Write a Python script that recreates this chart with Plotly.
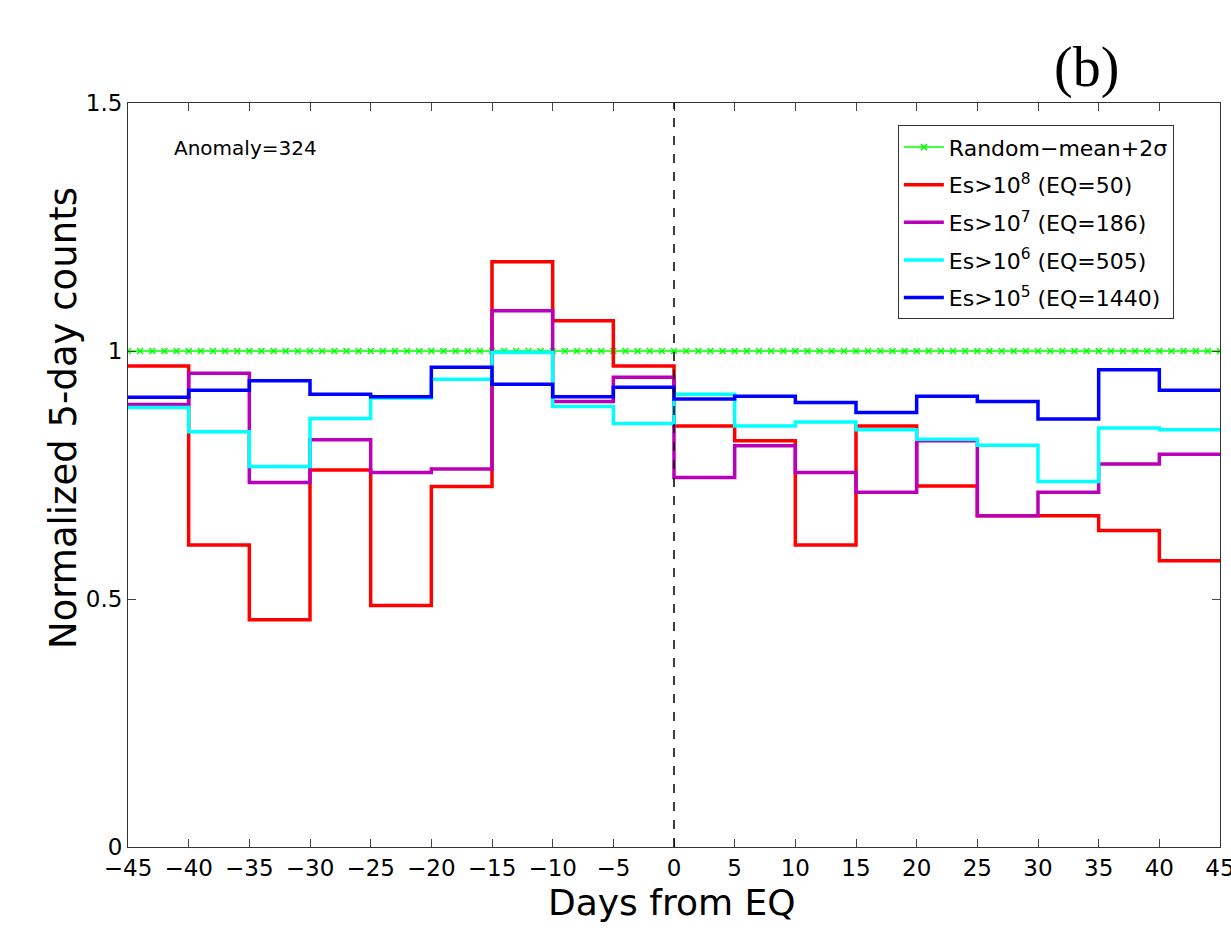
import plotly.graph_objects as go

edges = [-45, -40, -35, -30, -25, -20, -15, -10, -5, 0, 5, 10, 15, 20, 25, 30, 35, 40, 45]
es8 = [0.970, 0.609, 0.458, 0.760, 0.487, 0.727, 1.180, 1.061, 0.970,
       0.849, 0.819, 0.609, 0.849, 0.728, 0.668, 0.668, 0.638, 0.577]
es7 = [0.892, 0.955, 0.735, 0.821, 0.755, 0.762, 1.081, 0.898, 0.947,
       0.745, 0.809, 0.755, 0.715, 0.819, 0.668, 0.715, 0.772, 0.792]
es6 = [0.886, 0.837, 0.767, 0.864, 0.905, 0.943, 0.997, 0.888, 0.854,
       0.913, 0.849, 0.857, 0.841, 0.822, 0.810, 0.737, 0.845, 0.841]
es5 = [0.907, 0.921, 0.940, 0.913, 0.908, 0.967, 0.933, 0.908, 0.927,
       0.903, 0.909, 0.896, 0.876, 0.909, 0.898, 0.863, 0.962, 0.921]
random_days = list(range(-45, 46))
random_level = [1.0] * len(random_days)

xticks = list(range(-45, 46, 5))
yticks = [0, 0.5, 1, 1.5]

font = "DejaVu Sans"
fig = go.Figure()
fig.add_trace(go.Scatter(x=random_days, y=random_level, mode="lines+markers",
                         line=dict(color="#00ff00", width=1.5),
                         marker=dict(symbol="x-thin", size=6, line=dict(color="#00ff00", width=1.5)),
                         name="Random\u2212mean+2\u03c3", legendgroup="g0"))
series = [(es8, "#ff0000", "Es>10<sup>8</sup> (EQ=50)"),
          (es7, "#bb00bb", "Es>10<sup>7</sup> (EQ=186)"),
          (es6, "#00ffff", "Es>10<sup>6</sup> (EQ=505)"),
          (es5, "#0000ff", "Es>10<sup>5</sup> (EQ=1440)")]
for i, (vals, col, nm) in enumerate(series):
    fig.add_trace(go.Scatter(x=edges, y=vals + [vals[-1]], mode="lines", line_shape="hv",
                             line=dict(color=col, width=3.5), name=nm, legendgroup="g%d" % (i + 1)))

fig.add_shape(type="line", x0=0, x1=0, y0=0, y1=1.5, xref="x", yref="y",
              line=dict(color="black", width=1.5, dash="dash"))

fig.add_annotation(text="Anomaly=324", x=-41.4, y=1.409, xref="x", yref="y",
                   showarrow=False, xanchor="left", yanchor="middle",
                   font=dict(family=font, size=20, color="black"))
fig.add_annotation(text="(b)", x=0.878, y=1.048, xref="paper", yref="paper", showarrow=False,
                   xanchor="center", yanchor="middle",
                   font=dict(family="Liberation Serif", size=56, color="black"))
fig.add_annotation(text="Normalized 5-day counts", x=-0.0595, y=0.5766, xref="paper", yref="paper",
                   showarrow=False, textangle=-90, xanchor="center", yanchor="middle",
                   font=dict(family=font, size=37, color="black"))
fig.add_annotation(text="Days from EQ", x=0.4982, y=-0.0745, xref="paper", yref="paper",
                   showarrow=False, xanchor="center", yanchor="middle",
                   font=dict(family=font, size=36, color="black"))

fig.update_layout(
    width=1231, height=934,
    margin=dict(l=128, r=11, t=103, b=87, autoexpand=False),
    paper_bgcolor="white", plot_bgcolor="white",
    showlegend=True,
    legend=dict(x=0.705, y=0.970, xanchor="left", yanchor="top",
                bgcolor="white", bordercolor="#333333", borderwidth=1,
                font=dict(family=font, size=22, color="black"),
                tracegroupgap=6, itemwidth=40),
    xaxis=dict(range=[-45, 45], tickvals=xticks, ticks="inside", ticklen=8,
               showgrid=False, zeroline=False, showline=True, linecolor="#333333", linewidth=1,
               mirror="ticks", ticklabeloverflow="allow", automargin=False,
               tickfont=dict(family=font, size=23, color="black")),
    yaxis=dict(range=[0, 1.5], tickvals=yticks, ticktext=["0", "0.5", "1", "1.5"],
               ticks="inside", ticklen=8,
               showgrid=False, zeroline=False, showline=True, linecolor="#333333", linewidth=1,
               mirror="ticks", ticklabeloverflow="allow", automargin=False,
               tickfont=dict(family=font, size=23, color="black")),
)
fig.write_html("out.html")
